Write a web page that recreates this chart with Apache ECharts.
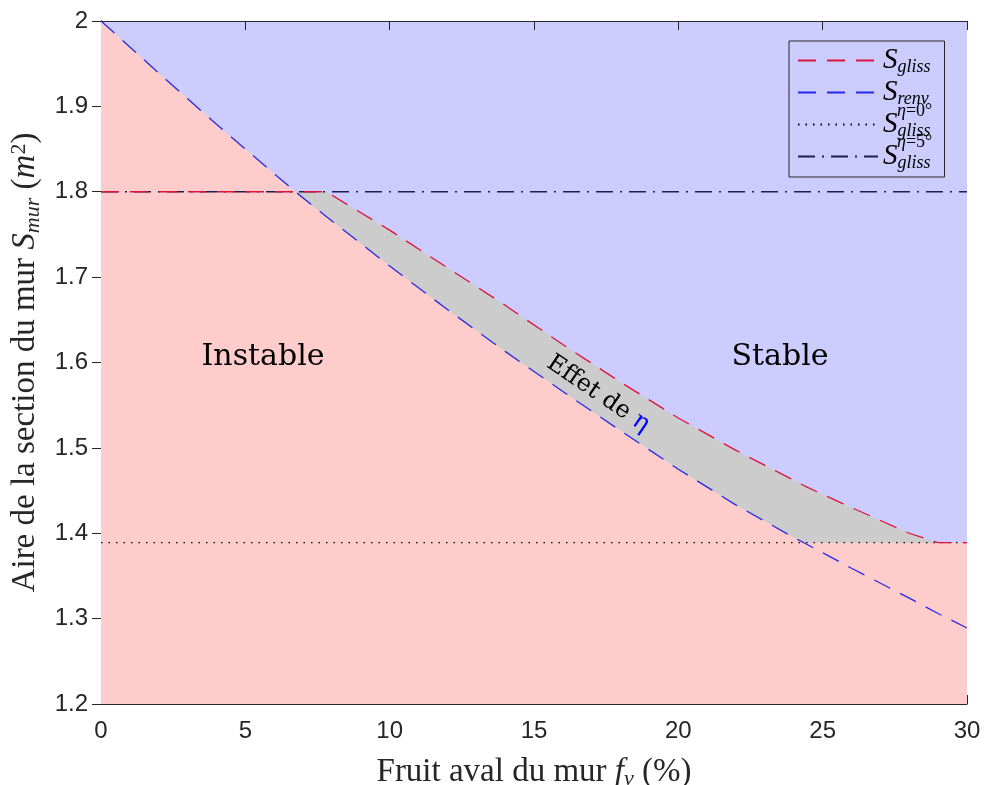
<!DOCTYPE html>
<html><head><meta charset="utf-8">
<script src="https://cdn.jsdelivr.net/npm/echarts@6/dist/echarts.min.js"></script>
<style>html,body{margin:0;padding:0;background:#fff}#c{width:984px;height:785px}</style>
</head><body><div id="c"></div>
<script>
// Fruit aval du mur f_v (%)
const fv      = [0,     2,     4,     6,     6.7,   7.8,   10,    12,    14,    16,    18,    20,    22,    24,    24.4,  26,    28,    29,    30];
// S_renv (m^2)
const sRenv   = [2.000, 1.939, 1.879, 1.821, 1.801, 1.771, 1.713, 1.662, 1.613, 1.566, 1.520, 1.475, 1.433, 1.395, 1.388, 1.359, 1.324, 1.306, 1.289];
// S_gliss (m^2)
const sGliss  = [1.800, 1.800, 1.800, 1.800, 1.800, 1.800, 1.755, 1.711, 1.667, 1.621, 1.577, 1.535, 1.497, 1.462, 1.455, 1.430, 1.400, 1.389, 1.389];
// horizontal references
const sGlissEta0 = 1.389;
const sGlissEta5 = 1.8;
const xRange = [0, 30];
const yRange = [1.2, 2];

const lower = fv.map((x, i) => [x, Math.max(sRenv[i], sGlissEta0)]);
const upper = fv.map((x, i) => [x, Math.max(sGliss[i], lower[i][1])]);

const serif = 'Liberation Serif';
const axisColor = '#262626';

const chart = echarts.init(document.getElementById('c'), null, {renderer: 'canvas'});

const subRich = {
  t: {fontFamily: serif, fontSize: 33, color: axisColor},
  i: {fontFamily: serif, fontStyle: 'italic', fontSize: 33, color: axisColor},
  sub: {fontFamily: serif, fontStyle: 'italic', fontSize: 22, color: axisColor, padding: [14, 0, 0, 0]},
  sup: {fontFamily: serif, fontSize: 22, color: axisColor, padding: [0, 0, 14, 0]}
};

const legendNames = {
  Sgliss: '{S|S}{sub|gliss}',
  Srenv: '{S|S}{sub|renv}',
  SglissEta0: '{S|S}{sub|gliss}',
  SglissEta5: '{S|S}{sub|gliss}'
};

function axisCommon(show) {
  return {
    axisLine: {show: true, lineStyle: {color: axisColor, width: 1}},
    axisTick: {show: true, inside: true, length: 9, lineStyle: {color: axisColor}},
    splitLine: {show: false},
    axisLabel: show ? {show: true} : {show: false}
  };
}

chart.setOption({
  animation: false,
  grid: {left: 101, right: 17, top: 21, bottom: 81, show: true, backgroundColor: '#CCCCFF', borderWidth: 0,
    containLabel: false, outerBoundsMode: 'none'},
  xAxis: [
    Object.assign(axisCommon(true), {
      type: 'value', min: xRange[0], max: xRange[1], interval: 5, position: 'bottom',
      axisLabel: {show: true, margin: 15, fontFamily: 'Liberation Sans', fontSize: 24, color: axisColor},
      name: '{t|Fruit aval du mur }{i|f}{sub|v}{t| (%)}',
      nameLocation: 'middle', nameGap: 50,
      nameTextStyle: {rich: subRich}
    }),
    Object.assign(axisCommon(false), {type: 'value', min: xRange[0], max: xRange[1], interval: 5, position: 'top'})
  ],
  yAxis: [
    Object.assign(axisCommon(true), {
      type: 'value', min: yRange[0], max: yRange[1], interval: 0.1, position: 'left',
      axisLabel: {show: true, margin: 13, fontFamily: 'Liberation Sans', fontSize: 24, color: axisColor,
        formatter: v => String(+v.toFixed(1))},
      name: '{t|Aire de la section du mur }{i|S}{sub|mur}{t| (}{i|m}{sup|2}{t|)}',
      nameLocation: 'middle', nameGap: 55,
      nameTextStyle: {rich: subRich}
    }),
    Object.assign(axisCommon(false), {type: 'value', min: yRange[0], max: yRange[1], interval: 0.1, position: 'right'})
  ],
  legend: {
    data: ['Sgliss', 'Srenv', 'SglissEta0', 'SglissEta5'],
    formatter: n => legendNames[n],
    orient: 'vertical', left: 789, top: 41,
    itemWidth: 80, itemHeight: 14, itemGap: 2,
    padding: [5, 14, 5, 8],
    backgroundColor: '#CCCCFF', borderColor: axisColor, borderWidth: 1, borderRadius: 0,
    selectedMode: false,
    itemStyle: {opacity: 0},
    textStyle: {
      rich: {
        S: {fontFamily: serif, fontStyle: 'italic', fontSize: 29, color: '#000', lineHeight: 26},
        sub: {fontFamily: serif, fontStyle: 'italic', fontSize: 18, color: '#000', padding: [13, 0, 0, 0]}
      }
    }
  },
  series: [
    {name: 'grayFill', type: 'line', data: upper, symbol: 'none', silent: true, z: 1,
      lineStyle: {width: 0}, areaStyle: {color: '#CCCCCC', opacity: 1, origin: 'start'}},
    {name: 'pinkFill', type: 'line', data: lower, symbol: 'none', silent: true, z: 1,
      lineStyle: {width: 0}, areaStyle: {color: '#FFCCCC', opacity: 1, origin: 'start'}},
    {name: 'SglissEta0', type: 'line', symbol: 'none', z: 3,
      data: xRange.map(x => [x, sGlissEta0]),
      lineStyle: {color: '#000000', width: 1.4, type: [1.5, 6]}},
    {name: 'SglissEta5', type: 'line', symbol: 'none', z: 3,
      data: xRange.map(x => [x, sGlissEta5]),
      lineStyle: {color: '#1E1E50', width: 1.3, type: [17, 7, 2, 7]}},
    {name: 'Srenv', type: 'line', symbol: 'none', z: 4,
      data: fv.map((x, i) => [x, sRenv[i]]),
      lineStyle: {color: '#2828E6', width: 1.3, type: [18, 11]}},
    {name: 'Sgliss', type: 'line', symbol: 'none', z: 5,
      data: fv.map((x, i) => [x, sGliss[i]]),
      lineStyle: {color: '#DC143C', width: 1.3, type: [18, 11]}}
  ],
  graphic: [
    {type: 'text', x: 263, y: 357, z: 10, style: {text: 'Instable', fontFamily: 'DejaVu Serif', fontSize: 30, fill: '#000', align: 'center', verticalAlign: 'middle'}},
    {type: 'text', x: 780, y: 357, z: 10, style: {text: 'Stable', fontFamily: 'DejaVu Serif', fontSize: 30, fill: '#000', align: 'center', verticalAlign: 'middle'}},
    {type: 'text', x: 598, y: 394, z: 10, rotation: -34 * Math.PI / 180,
      style: {text: '{a|Effet de }{b|η}', align: 'center', verticalAlign: 'middle',
        rich: {a: {fontFamily: 'DejaVu Serif', fontSize: 24, fill: '#000'}, b: {fontFamily: 'DejaVu Serif', fontSize: 25, fill: '#0000FF'}}}},
    {type: 'text', x: 897, y: 111, z: 20, style: {text: '{i|η}{r|=0°}', verticalAlign: 'middle',
      rich: {i: {fontFamily: serif, fontStyle: 'italic', fontSize: 18, fill: '#000'}, r: {fontFamily: serif, fontSize: 18, fill: '#000'}}}},
    {type: 'text', x: 897, y: 142, z: 20, style: {text: '{i|η}{r|=5°}', verticalAlign: 'middle',
      rich: {i: {fontFamily: serif, fontStyle: 'italic', fontSize: 18, fill: '#000'}, r: {fontFamily: serif, fontSize: 18, fill: '#000'}}}}
  ]
});
</script></body></html>
